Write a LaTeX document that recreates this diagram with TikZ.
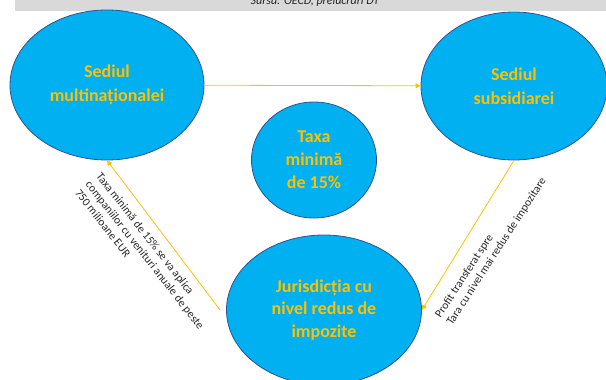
\documentclass[tikz,border=0pt]{standalone}
\usepackage{fontspec}
\setmainfont{Carlito}
\usetikzlibrary{shapes.geometric,arrows.meta}
\definecolor{fillblue}{HTML}{00B0F0}
\definecolor{edgeblue}{HTML}{2F528F}
\definecolor{gold}{HTML}{FFC000}
\definecolor{bargrey}{HTML}{D9D9D9}
\definecolor{labelgrey}{HTML}{262626}
\begin{document}
\begin{tikzpicture}[x=1pt,y=-1pt,
  bubble/.style={ellipse, draw=edgeblue, line width=0.8pt, fill=fillblue, text=gold,
    font=\bfseries\fontsize{18}{24}\selectfont, align=center, inner sep=0pt},
  arr/.style={draw=gold, line width=0.8pt, -{Triangle[length=5pt,width=5pt]}},
  lbl/.style={font=\fontsize{11.5}{13.5}\selectfont, align=left, text=labelgrey, inner sep=0pt}]
\useasboundingbox (0,0) rectangle (606,380);
\clip (0,0) rectangle (606,380);
\fill[bargrey] (15,0) rectangle (606,10.5);
\node[anchor=base, inner sep=0pt, text=labelgrey, font=\itshape\fontsize{12}{14}\selectfont] (src) at (315,4.5) {Sursa: OECD, prelucrari DT};
\node[bubble, minimum width=194pt, minimum height=150pt] (hq) at (107,85) {Sediul\\multinaționalei};
\node[bubble, minimum width=186pt, minimum height=148pt] (sub) at (514,86) {Sediul\\subsidiarei};
\node[bubble, minimum width=125pt, minimum height=116pt, font=\bfseries\fontsize{18}{23}\selectfont] (tax) at (314,160) {Taxa\\minimă\\de 15\%};
\node[bubble, minimum width=195pt, minimum height=150pt, font=\bfseries\fontsize{18}{22.5}\selectfont] (jur) at (324,310) {Jurisdicția cu\\nivel redus de\\impozite};
\draw[arr] (hq) -- (sub);
\draw[arr] ([xshift=-6pt]jur.west) -- (hq.south);
\draw[arr] (sub.south) -- (jur.east);
\node[lbl, rotate=-52] (l1) at (145,255) {Taxa minimă de 15\% se va aplica\\companiilor  cu venituri anuale de peste\\750 milioane EUR};
\node[lbl, rotate=57] (l2) at (491,248) {Profit transferat spre\\Tara cu nivel mai redus de impozitare};
\end{tikzpicture}
\end{document}
